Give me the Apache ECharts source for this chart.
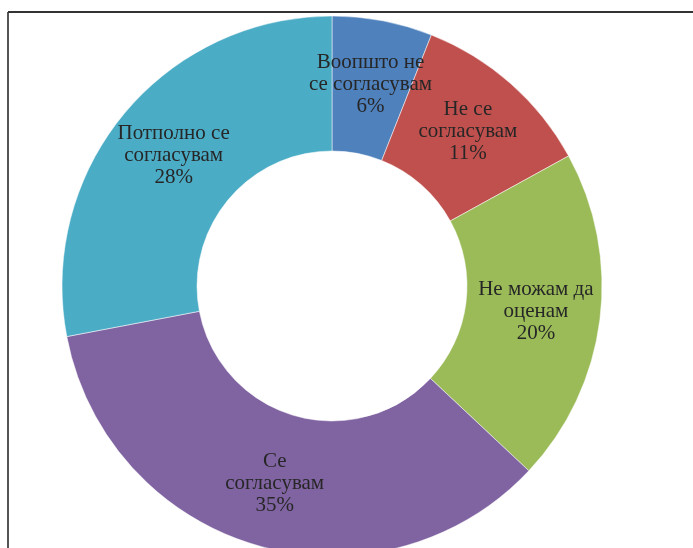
<!DOCTYPE html>
<html>
<head>
<meta charset="utf-8">
<script src="https://cdn.jsdelivr.net/npm/echarts@6/dist/echarts.min.js"></script>
<style>
  html, body { margin: 0; padding: 0; background: #fff; }
  #chart { width: 693px; height: 548px; }
</style>
</head>
<body>
<div id="chart"></div>
<script>
// categories and shares (%), clockwise from the top
var categories = ['Воопшто не\nсе согласувам', 'Не се\nсогласувам', 'Не можам да\nоценам', 'Се\nсогласувам', 'Потполно се\nсогласувам']
var values = [6, 11, 20, 35, 28]
var colors = ['#4f81bd', '#c0504d', '#9bbb59', '#8064a2', '#4bacc6']

var myChart = echarts.init(document.getElementById('chart'))
var options = {
  animation: false,
  color: colors,
  graphic: [
    { type: 'line', shape: { x1: 8, y1: 12, x2: 8, y2: 548 }, style: { stroke: '#555', lineWidth: 2 } },
    { type: 'line', shape: { x1: 8, y1: 12, x2: 693, y2: 12 }, style: { stroke: '#333', lineWidth: 2 } }
  ],
  series: [{
    type: 'pie',
    center: [332, 286],
    radius: [135, 270],
    startAngle: 90,
    clockwise: true,
    avoidLabelOverlap: false,
    data: categories.map(function (c, i) { return { name: c, value: values[i] } }),
    itemStyle: { borderColor: '#fff', borderWidth: 0.5 },
    label: {
      show: true,
      position: 'inside',
      formatter: function (p) { return p.name + '\n' + p.value + '%' },
      fontFamily: 'Liberation Serif',
      fontSize: 21,
      lineHeight: 22,
      color: '#262626'
    },
    labelLayout: { hideOverlap: false }, // keep the 6% label, it is wider than its slice
    labelLine: { show: false },
    emphasis: { disabled: true }
  }]
}
myChart.setOption(options)
</script>
</body>
</html>
